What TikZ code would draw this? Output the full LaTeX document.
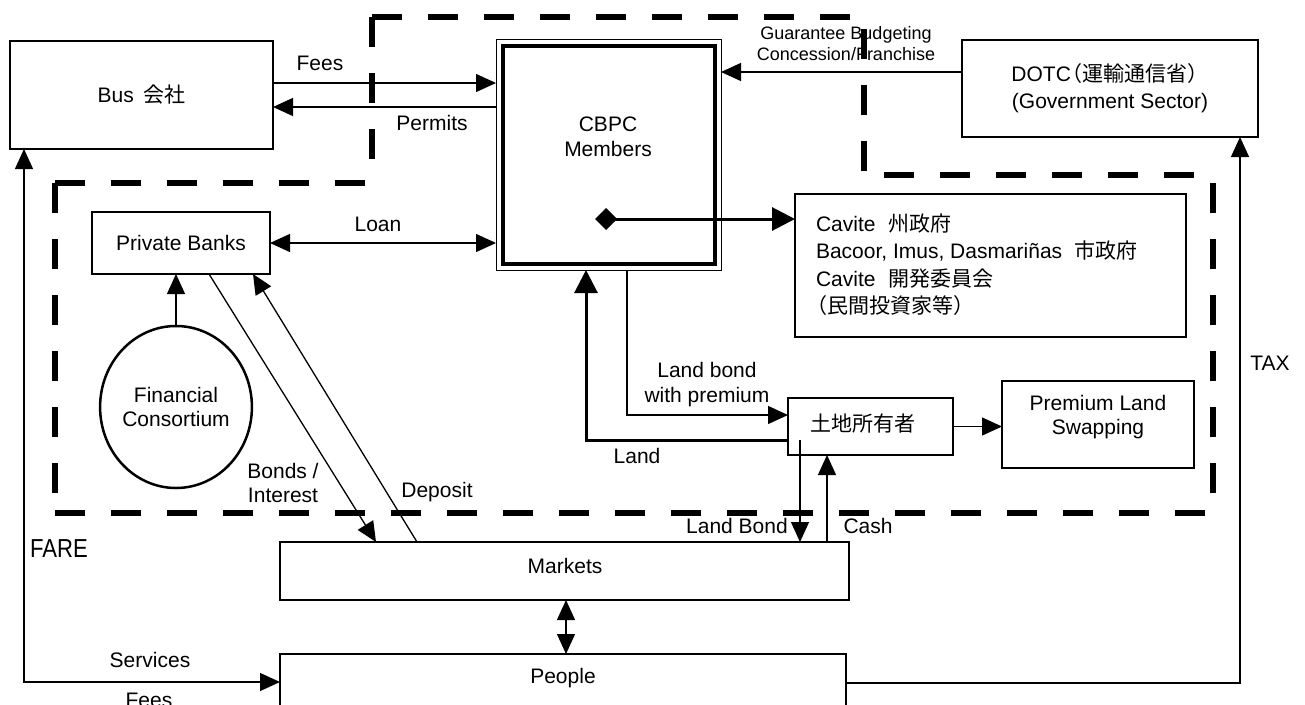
\documentclass[tikz,border=0pt]{standalone}
\usepackage{fontspec}
\usepackage{graphicx}
\setmainfont{Liberation Sans}
\newfontfamily\cjk{Noto Sans CJK JP}
\usetikzlibrary{arrows.meta,shapes.geometric,calc}
\begin{document}
\begin{tikzpicture}[x=1pt,y=-1pt,
  >={Triangle[length=20pt,width=18pt]},
  every node/.style={font=\fontsize{21}{25}\selectfont, inner sep=0pt, outer sep=0pt},
  box/.style={draw, line width=1.4pt},
  conn/.style={line width=1.3pt},
  bigtip/.style={-{Triangle[length=23pt,width=23pt]}},
  small/.style={font=\fontsize{18}{21}\selectfont},
  region/.style={line width=6pt, dash pattern=on 30pt off 26pt}]
\useasboundingbox (0,0) rectangle (1305,704);
\fill[white] (0,0) rectangle (1305,704);

% boxes
\node[box, minimum width=263pt, minimum height=108pt] (bus) at (141.5,95) {Bus\hspace{0.45em}{\cjk 会社}};
\node[draw, line width=1pt, minimum width=225pt, minimum height=231pt] (cbpc) at (608.5,154.5) {};
\draw[line width=4pt] ([xshift=6.5pt,yshift=-6.5pt]cbpc.north west) rectangle ([xshift=-6.5pt,yshift=6.5pt]cbpc.south east);
\node[align=center] (cbpctxt) at (608,137) {CBPC\\Members};
\node[box, minimum width=296pt, minimum height=97pt, align=center, font=\fontsize{21}{27}\selectfont] (dotc) at (1110,88.5) {DOTC\hspace{-0.45em}{\cjk （運輸通信省）}\hspace{-0.45em}\\(Government Sector)};
\node[box, minimum width=391pt, minimum height=143pt] (cavite) at (990.5,265.5) {};
\node[anchor=west, align=left, font=\fontsize{21}{27.5}\selectfont] (cavitetxt) at (816,264.5) {Cavite\hspace{0.6em}{\cjk 州政府}\\Bacoor, Imus, Dasmariñas\hspace{0.6em}{\cjk 市政府}\\Cavite\hspace{0.6em}{\cjk 開発委員会}\\\hspace*{-0.45em}{\cjk （民間投資家等）}};
\node[box, minimum width=178pt, minimum height=62pt] (pb) at (181,243) {Private Banks};
\node[draw, ellipse, line width=2.5pt, minimum width=138pt, minimum height=162pt, align=center, font=\fontsize{21}{24}\selectfont] (fc) at (176,407) {Financial\\Consortium};
\node[box, minimum width=569pt, minimum height=58pt] (mk) at (564.5,571) {};
\node (mktxt) at (565,566) {Markets};
\node[box, minimum width=566pt, minimum height=80pt, anchor=north west] (people) at (280,654) {};
\node (peopletxt) at (563,678) {People};
\node[box, minimum width=165pt, minimum height=57pt] (tochi) at (870.5,426.5) {};
\node (tochitxt) at (863,424) {{\cjk 土地所有者}};
\node[box, minimum width=192pt, minimum height=87pt] (pls) at (1098,424.5) {};
\node[align=center, font=\fontsize{21}{24}\selectfont] (plstxt) at (1098,417) {Premium Land\\Swapping};

% connectors
\draw[conn,->] (bus.east |- 0,83) -- (cbpc.west |- 0,83);
\draw[conn,->] (cbpc.west |- 0,107) -- (bus.east |- 0,107);
\draw[conn,->] (dotc.west |- 0,72) -- (cbpc.east |- 0,72);
\coordinate (dstart) at (595,219);
\draw[line width=3pt,{Diamond[length=22pt,width=22pt]}-{Triangle[length=23pt,width=23pt]}] (dstart) -- (cavite.west |- dstart);
\draw[conn,<->] (pb.east) -- (cbpc.west |- pb.east);
\draw[conn,->] (fc.north) -- (fc.north |- pb.south);
\draw[conn,->] (pb.south -| 209,0) -- (mk.north -| 376,0);
\draw[conn,->] (mk.north -| 417,0) -- (pb.south -| 253,0);
\draw[conn,->] (cbpc.south -| 627,0) |- (tochi.west |- 0,415);
\draw[line width=3pt,bigtip] (tochi.west |- 0,440) -| (cbpc.south -| 586,0);
\coordinate (lbs) at (800,440);
\draw[conn,->] (lbs) -- (mk.north -| lbs);
\draw[conn,->] (mk.north -| 827,0) -- (tochi.south -| 827,0);
\draw[conn,->] (tochi.east) -- (pls.west |- tochi.east);
\draw[conn,<->] (mk.south -| 566,0) -- (people.north -| 566,0);
\draw[conn,<->] (bus.south -| 24,0) |- (people.west |- 0,682);
\draw[conn,->] (people.east |- 0,683) -| (dotc.south -| 1240,0);

% labels
\node (lfees) at (320,63) {Fees};
\node (lpermits) at (432,123) {Permits};
\node[small, align=center] (lguar) at (846,44) {Guarantee Budgeting\\Concession/Franchise};
\node (lloan) at (378,224) {Loan};
\node[align=center, font=\fontsize{21}{24}\selectfont] (lbonds) at (283,483) {Bonds /\\Interest};
\node (ldeposit) at (437,492) {Deposit};
\node[align=center, font=\fontsize{21}{25}\selectfont] (llbp) at (707,385) {Land bond\\with premium};
\node (lland) at (637,456) {Land};
\node (llandbond) at (737,526) {Land Bond};
\node (lcash) at (868,526) {Cash};
\node (ltax) at (1270,363) {TAX};
\node (lfare) at (59,549) {\fontsize{26}{26}\selectfont\scalebox{0.85}[1]{FARE}};
\node (lservices) at (150,660) {Services};
\node (lfees2) at (149,700) {Fees};

% dashed region
\coordinate (d1) at (372,17);
\coordinate (d2) at (864,17);
\coordinate (d3) at (864,175);
\coordinate (d4) at (1213,175);
\coordinate (d5) at (1213,513);
\coordinate (d6) at (55,513);
\coordinate (d7) at (55,183);
\coordinate (d8) at (372,183);
\draw[region] (d1) -- (d2);
\draw[region] ([yshift=-12pt]d2) -- (d3);
\draw[region] ([xshift=20pt]d3) -- (d4);
\draw[region] ([yshift=-8pt]d4) -- ([yshift=18pt]d5);
\draw[region] (d6) -- ([xshift=-5pt]d5);
\draw[region] (d7) -- (d6);
\draw[region] (d7) -- (d8);
\draw[region] (d1) -- (d8);
\end{tikzpicture}
\end{document}
